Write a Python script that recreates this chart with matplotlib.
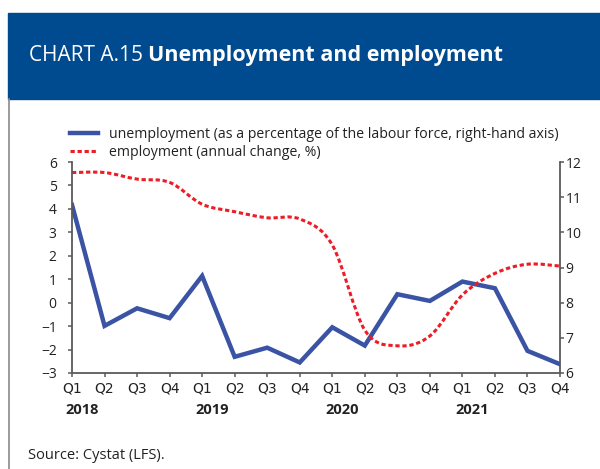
import matplotlib
matplotlib.use('Agg')
import matplotlib.pyplot as plt
from matplotlib.patches import Rectangle, PathPatch
from matplotlib.path import Path
from matplotlib.lines import Line2D
from matplotlib.text import Annotation
from matplotlib.transforms import blended_transform_factory
import numpy as np

plt.rcParams['font.family'] = ['Open Sans', 'DejaVu Sans']

# data, 2018 Q1 .. 2021 Q4
quarters = ['Q1', 'Q2', 'Q3', 'Q4'] * 4
years = ['2018', '2019', '2020', '2021']
unemployment = [10.78, 7.34, 7.84, 7.56, 8.76, 6.46, 6.72, 6.30,
                7.30, 6.78, 8.24, 8.05, 8.60, 8.41, 6.63, 6.25]
employment = [5.55, 5.55, 5.27, 5.13, 4.20, 3.88, 3.62, 3.57,
              2.46, -1.17, -1.84, -1.42, 0.33, 1.25, 1.64, 1.56]

blue = '#3a53a4'
red = '#ee1c25'
header = '#004a8f'
spine_col = '#5a5a5a'

fig = plt.figure(figsize=(6, 4.69), dpi=100)

# header band and left border
fig.patches.append(Rectangle((7.7 / 600, 1 - 99.3 / 469), 1, 86.6 / 469,
                             transform=fig.transFigure, color=header, zorder=0))
fig.lines.append(Line2D([8.5 / 600, 8.5 / 600], [0, 1 - 99.3 / 469],
                        transform=fig.transFigure, color='#8a8a8a', lw=1.2))

t1 = fig.text(29 / 600, 1 - 61 / 469, 'CHART A.15 ', color='white',
              fontsize=15, va='baseline', ha='left')
ann = Annotation('Unemployment and employment', xy=(1, 0), xycoords=t1,
                 va='bottom', ha='left', color='white', fontsize=15.5,
                 fontweight='bold', annotation_clip=False)
fig.add_artist(ann)

ax = fig.add_axes([72 / 600, 1 - 373 / 469, 488 / 600, 211 / 469])
ax2 = ax.twinx()
x = np.arange(len(unemployment))

ln_u, = ax2.plot(x, unemployment, color=blue, lw=3.2, solid_joinstyle='miter')

# smoothed dashed line for employment (bezier through the points)
pts = np.column_stack([x, employment]).astype(float)
verts = [tuple(pts[0])]
codes = [Path.MOVETO]
n = len(pts)
for i in range(n - 1):
    p0 = pts[max(i - 1, 0)]
    p1 = pts[i]
    p2 = pts[i + 1]
    p3 = pts[min(i + 2, n - 1)]
    c1 = p1 + (p2 - p0) / 6
    c2 = p2 - (p3 - p1) / 6
    verts += [tuple(c1), tuple(c2), tuple(p2)]
    codes += [Path.CURVE4] * 3
emp_ls = (0, (1.4, 0.9))
ax.add_patch(PathPatch(Path(verts, codes), fill=False, ec=red, lw=2.2,
                       ls=emp_ls, capstyle='butt'))

ax.set_zorder(ax2.get_zorder() + 1)
ax.patch.set_visible(False)

ax.set_xlim(0, 15)
ax.set_ylim(-3, 6)
ax2.set_ylim(6, 12)
ax.set_yticks(range(-3, 7))
ax2.set_yticks(range(6, 13))
ax.set_xticks(x)
ax.set_xticklabels(quarters, family=['Liberation Sans Narrow', 'DejaVu Sans'],
                   fontsize=10)

for a in (ax, ax2):
    for s in a.spines.values():
        s.set_color(spine_col)
        s.set_linewidth(1.3)
    a.spines['top'].set_visible(False)
ax.spines['right'].set_visible(False)
ax2.spines['left'].set_visible(False)
ax2.spines['bottom'].set_visible(False)

ax.tick_params(axis='y', direction='out', length=3, width=1.1, color=spine_col,
               labelsize=10, pad=8, labelcolor='#222222')
ax.tick_params(axis='x', direction='out', length=3, width=1.1, color=spine_col,
               pad=3, labelcolor='#222222')
ax2.tick_params(axis='y', direction='out', length=3, width=1.1, color=spine_col,
                labelsize=10, pad=1, labelcolor='#222222')

tr = blended_transform_factory(ax.transData, ax.transAxes)
for i, yr in enumerate(years):
    ax.text(i * 4 - 0.2, -0.175, yr, transform=tr, ha='left', va='center',
            fontsize=10.5, fontweight='bold', color='#222222')

emp_handle = Line2D([], [], color=red, lw=2.2, ls=emp_ls)
fig.legend([ln_u, emp_handle],
           ['unemployment (as a percentage of the labour force, right-hand axis)',
            'employment (annual change, %)'],
           loc='upper left', bbox_to_anchor=(70 / 600, 1 - 127 / 469),
           frameon=False, fontsize=10.2, handlelength=2.0, handletextpad=0.75,
           labelspacing=0.2, borderpad=0, borderaxespad=0,
           labelcolor='#222222')

fig.text(28 / 600, 1 - 459 / 469, 'Source: Cystat (LFS).', fontsize=10.5,
         va='baseline', ha='left', color='#222222')

fig.savefig('out.png', dpi=100)
